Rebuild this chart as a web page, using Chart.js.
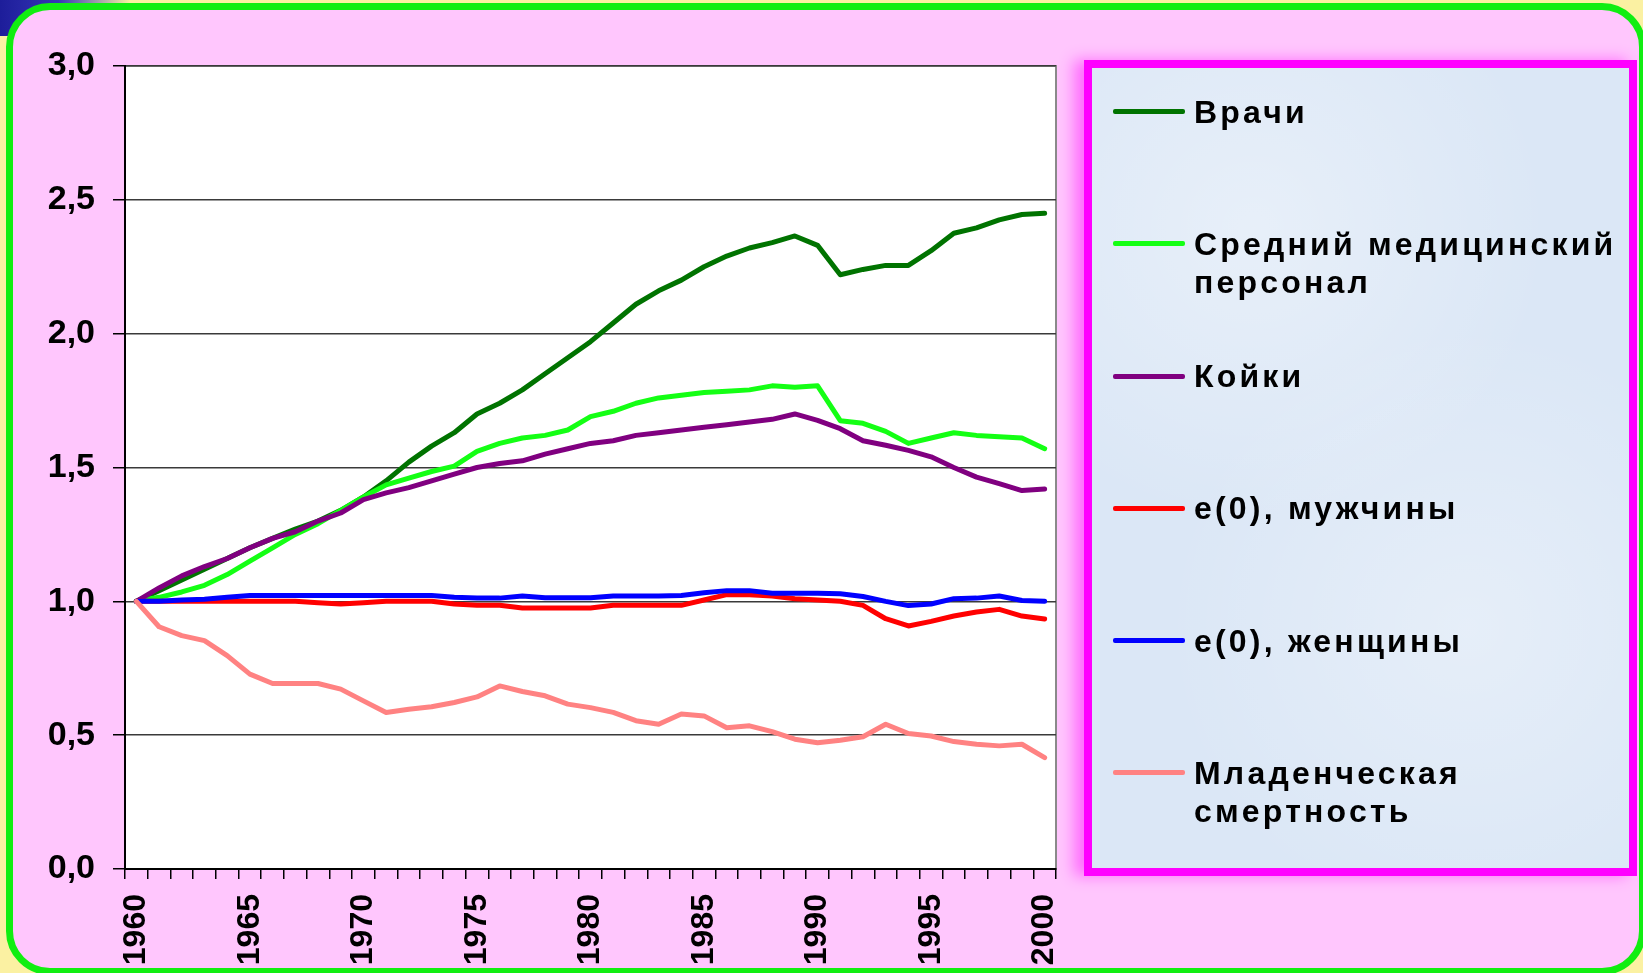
<!DOCTYPE html>
<html>
<head>
<meta charset="utf-8">
<script src="https://cdn.jsdelivr.net/npm/chart.js@4.4.1/dist/chart.umd.min.js"></script>
<style>
html, body { margin: 0; padding: 0; }
body {
	width: 1643px; height: 973px; overflow: hidden; position: relative;
	background: #fbf1a2;
	font-family: "Liberation Sans", Arial, sans-serif;
}
#corner {
	position: absolute; left: 0; top: 0; width: 130px; height: 36px;
	background: linear-gradient(to right, #1d1d9a, #3535b5 45%, rgba(251,241,162,0) 100%);
}
#frame {
	position: absolute; left: 6px; top: 3px; width: 1640px; height: 972px;
	box-sizing: border-box; border: 7px solid #11ee11; border-radius: 44px;
	background: #ffc6fd;
}
#chartBox { position: absolute; left: 0; top: 0; width: 1070px; height: 973px; }
#legend {
	position: absolute; left: 1084px; top: 60px; width: 553px; height: 816px;
	box-sizing: border-box; border: 8px solid #ff00ff;
	background:
		radial-gradient(circle at 30% 20%, rgba(255,255,255,0.35), rgba(255,255,255,0) 40%),
		radial-gradient(circle at 70% 70%, rgba(255,255,255,0.3), rgba(255,255,255,0) 45%),
		#dbe7f6;
	box-shadow: -10px 0 14px rgba(255, 0, 255, 0.45);
}
.lg-line { position: absolute; left: 21px; width: 72px; height: 5px; border-radius: 2px; }
.lg-text {
	position: absolute; left: 102px; font-weight: bold; font-size: 32px; line-height: 38px;
	letter-spacing: 3.2px; color: #000; white-space: pre-line;
}
</style>
</head>
<body>
<div id="corner"></div>
<div id="frame"></div>
<div id="chartBox"><canvas id="grafico" width="1070" height="973"></canvas></div>
<div id="legend"></div>

<script>
const anos = ["1960","1961","1962","1963","1964","1965","1966","1967","1968","1969",
	"1970","1971","1972","1973","1974","1975","1976","1977","1978","1979",
	"1980","1981","1982","1983","1984","1985","1986","1987","1988","1989",
	"1990","1991","1992","1993","1994","1995","1996","1997","1998","1999","2000"];
const anosRotulados = ["1960","1965","1970","1975","1980","1985","1990","1995","2000"];

const vrachi = [1.00,1.04,1.08,1.12,1.16,1.20,1.235,1.27,1.30,1.34,
	1.39,1.45,1.52,1.58,1.63,1.70,1.74,1.79,1.85,1.91,
	1.97,2.04,2.11,2.16,2.20,2.25,2.29,2.32,2.34,2.365,
	2.33,2.22,2.24,2.255,2.255,2.31,2.375,2.395,2.425,2.445,2.45];
const srednii = [1.00,1.015,1.035,1.06,1.10,1.15,1.20,1.25,1.29,1.34,
	1.39,1.435,1.46,1.485,1.505,1.56,1.59,1.61,1.62,1.64,
	1.69,1.71,1.74,1.76,1.77,1.78,1.785,1.79,1.805,1.80,
	1.805,1.675,1.665,1.635,1.59,1.61,1.63,1.62,1.615,1.61,1.57];
const koiki = [1.00,1.05,1.095,1.13,1.16,1.20,1.235,1.26,1.30,1.33,
	1.38,1.405,1.425,1.45,1.475,1.50,1.515,1.525,1.55,1.57,
	1.59,1.60,1.62,1.63,1.64,1.65,1.66,1.67,1.68,1.70,
	1.676,1.645,1.60,1.583,1.564,1.54,1.50,1.464,1.44,1.414,1.42];
const e0Muzh = [1.00,1.00,1.00,1.00,1.00,1.00,1.00,1.00,0.995,0.99,
	0.995,1.00,1.00,1.00,0.99,0.985,0.985,0.975,0.975,0.975,
	0.975,0.985,0.985,0.985,0.985,1.005,1.025,1.025,1.02,1.01,
	1.005,1.00,0.985,0.935,0.908,0.925,0.945,0.96,0.97,0.945,0.934];
const e0Zhen = [1.00,1.00,1.005,1.008,1.015,1.022,1.022,1.022,1.022,1.022,
	1.022,1.022,1.022,1.022,1.015,1.012,1.012,1.02,1.013,1.013,
	1.013,1.02,1.02,1.02,1.022,1.032,1.04,1.04,1.03,1.03,
	1.03,1.028,1.018,1.00,0.984,0.99,1.01,1.012,1.02,1.003,1.00];
const mladSmert = [1.00,0.905,0.872,0.853,0.797,0.728,0.693,0.693,0.693,0.672,
	0.628,0.585,0.597,0.606,0.622,0.643,0.684,0.663,0.647,0.616,
	0.603,0.585,0.554,0.541,0.579,0.572,0.528,0.535,0.513,0.485,
	0.472,0.481,0.494,0.541,0.506,0.497,0.476,0.466,0.46,0.466,0.416];

const series = [
	{ label: "Врачи", data: vrachi, cor: "#007300" },
	{ label: "Средний медицинский\nперсонал", data: srednii, cor: "#14ff14" },
	{ label: "Койки", data: koiki, cor: "#800080" },
	{ label: "e(0), мужчины", data: e0Muzh, cor: "#ff0000" },
	{ label: "e(0), женщины", data: e0Zhen, cor: "#0000ff" },
	{ label: "Младенческая\nсмертность", data: mladSmert, cor: "#ff8282" }
];

// fundo branco e moldura cinza da area do grafico
const areaPlugin = {
	id: "areaPlugin",
	beforeDraw(chart) {
		const a = chart.chartArea, ctx = chart.ctx;
		ctx.save();
		ctx.fillStyle = "#ffffff";
		ctx.fillRect(a.left, a.top, a.right - a.left, a.bottom - a.top);
		ctx.strokeStyle = "#8a8a8a";
		ctx.lineWidth = 2;
		ctx.strokeRect(a.left, a.top, a.right - a.left, a.bottom - a.top);
		ctx.restore();
	}
};

const fonte = "'Liberation Sans', Arial, sans-serif";

const chart = new Chart(document.getElementById("grafico").getContext("2d"), {
	type: "line",
	data: {
		labels: anos,
		datasets: series.map((s, i) => ({
			label: s.label,
			data: s.data,
			borderColor: s.cor,
			backgroundColor: s.cor,
			borderWidth: 5,
			pointRadius: 0,
			tension: 0,
			borderJoinStyle: "round",
			borderCapStyle: "round",
			order: series.length - i
		}))
	},
	options: {
		responsive: false,
		animation: false,
		devicePixelRatio: 1,
		layout: { padding: { top: 66, right: 14, left: 0, bottom: 0 } },
		plugins: { legend: { display: false }, tooltip: { enabled: false } },
		scales: {
			x: {
				offset: true,
				afterFit: (scale) => {
					scale.height = 104;
					scale.paddingLeft = 0;
					scale.paddingRight = 0;
				},
				grid: { offset: true, drawOnChartArea: false, tickLength: 10, tickColor: "#000", lineWidth: 1.5 },
				border: { color: "#000", width: 2 },
				ticks: {
					autoSkip: false, minRotation: 90, maxRotation: 90, padding: 15,
					color: "#000", font: { family: fonte, size: 32, weight: "bold" },
					callback: function(v, idx) {
						const a = anos[idx];
						return anosRotulados.includes(a) ? a : "";
					}
				}
			},
			y: {
				min: 0, max: 3,
				afterFit: (scale) => { scale.width = 125; },
				grid: { color: "#3a3a3a", lineWidth: 1.5, tickLength: 12, tickColor: "#000" },
				border: { color: "#000", width: 2 },
				ticks: {
					stepSize: 0.5, padding: 18, color: "#000",
					font: { family: fonte, size: 34, weight: "bold" },
					callback: (v) => v.toFixed(1).replace(".", ",")
				}
			}
		}
	},
	plugins: [areaPlugin]
});

// legenda em HTML a partir dos datasets
function montarLegenda() {
	const box = document.getElementById("legend");
	const topoConteudo = 68; // topo da area interna da legenda na pagina
	chart.data.datasets.forEach((ds, i) => {
		const yLinha = 111.7 + 132.2 * i - topoConteudo;
		const linha = document.createElement("div");
		linha.className = "lg-line";
		linha.style.top = (yLinha - 2.5) + "px";
		linha.style.background = ds.borderColor;
		box.appendChild(linha);

		const txt = document.createElement("div");
		txt.className = "lg-text";
		txt.style.top = (yLinha - 19) + "px";
		txt.textContent = ds.label;
		box.appendChild(txt);
	});
}
montarLegenda();
</script>
</body>
</html>
